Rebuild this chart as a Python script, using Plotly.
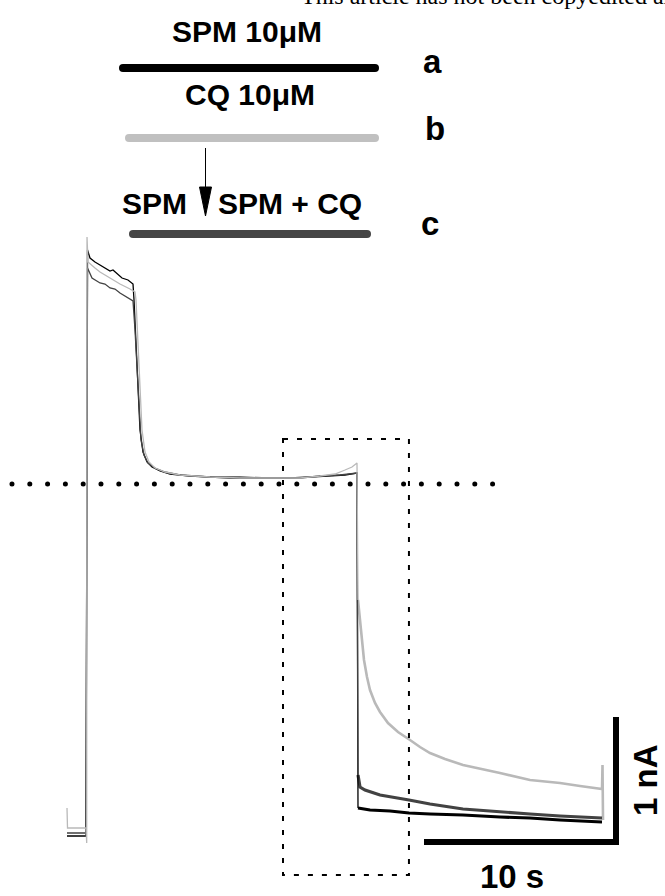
import numpy as np
import plotly.graph_objects as go

# ---------------------------------------------------------------------------
# Whole-cell current recordings (time in s, current in nA)
# a: SPM 10 µM, b: CQ 10 µM, c: SPM then SPM + CQ
# ---------------------------------------------------------------------------
t_a = [0.0, 0.99, 1.068, 1.198, 1.458, 1.719, 1.979, 2.240, 2.396, 2.656, 2.865,
       3.177, 3.438, 3.490, 3.594, 3.698, 3.802, 3.958, 4.167, 4.427, 4.844,
       5.365, 6.406, 7.448, 8.490, 9.531, 10.573, 11.615, 12.656, 13.698,
       14.479, 15.104, 15.156, 15.781, 16.823, 17.813, 18.906, 20.625, 22.552,
       24.115, 25.677, 27.865]
i_a = [-2.816, -2.816, 1.872, 1.808, 1.776, 1.752, 1.728, 1.704, 1.712, 1.672,
       1.648, 1.632, 1.600, 1.472, 1.152, 0.752, 0.432, 0.256, 0.176, 0.136,
       0.104, 0.080, 0.064, 0.056, 0.048, 0.048, 0.048, 0.048, 0.056, 0.064,
       0.072, 0.088, -2.592, -2.608, -2.616, -2.632, -2.640, -2.648, -2.664,
       -2.672, -2.688, -2.704]

t_b = [0.0, 0.026, 0.99, 1.026, 1.042, 1.094, 1.458, 1.719, 2.240, 2.760, 3.281,
       3.542, 3.594, 3.698, 3.802, 3.906, 4.063, 4.271, 4.583, 5.104, 5.885,
       7.448, 9.010, 10.573, 12.135, 13.177, 13.958, 14.479, 14.844, 15.104,
       15.156, 15.260, 15.365, 15.469, 15.625, 15.781, 16.042, 16.302, 16.719,
       17.240, 17.865, 18.385, 18.906, 19.688, 20.625, 21.510, 22.552, 24.115,
       25.677, 26.719, 27.865, 27.891, 27.917]
i_b = [-2.592, -2.752, -2.752, -2.872, 1.976, 1.776, 1.728, 1.696, 1.648, 1.600,
       1.560, 1.536, 1.472, 1.152, 0.752, 0.432, 0.256, 0.176, 0.128, 0.096,
       0.072, 0.056, 0.048, 0.048, 0.048, 0.064, 0.080, 0.112, 0.136, 0.168,
       -0.928, -1.088, -1.272, -1.408, -1.544, -1.648, -1.752, -1.824, -1.912,
       -1.984, -2.048, -2.104, -2.152, -2.200, -2.248, -2.280, -2.312, -2.368,
       -2.392, -2.416, -2.440, -2.248, -2.688]

t_c = [0.0, 0.99, 1.068, 1.302, 1.719, 1.979, 2.240, 2.500, 2.760, 3.021, 3.281,
       3.438, 3.542, 3.646, 3.750, 3.854, 4.010, 4.219, 4.583, 5.104, 5.885,
       7.448, 9.010, 10.573, 12.135, 13.177, 14.219, 15.104, 15.156, 15.260,
       15.521, 16.302, 17.813, 18.906, 20.625, 22.552, 24.115, 25.677, 27.865]
i_c = [-2.792, -2.792, 1.728, 1.648, 1.608, 1.600, 1.568, 1.560, 1.528, 1.504,
       1.480, 1.464, 1.232, 0.912, 0.592, 0.352, 0.232, 0.168, 0.128, 0.096,
       0.072, 0.056, 0.056, 0.048, 0.048, 0.064, 0.072, 0.088, -2.328, -2.424,
       -2.448, -2.488, -2.528, -2.560, -2.600, -2.624, -2.640, -2.656, -2.672]

T_SWITCH = 15.156        # second solution exchange (s)
REF_LEVEL = 0.0          # dotted reference current (nA)
BOX_T = [11.25, 17.81]   # highlighted window (s)
BOX_I = [0.36, -3.128]   # highlighted window (nA)
SCALE_T = 10             # s
SCALE_I = 1              # nA
SCALE_CORNER = (28.594, -2.864)

# ---------------------------------------------------------------------------
# Page geometry
# ---------------------------------------------------------------------------
W, H = 665, 896
PX_PER_S, PX_PER_NA = 19.2, 125.0
T_LEFT = -67 / PX_PER_S
I_TOP = 484 / PX_PER_NA

COL_A, COL_B, COL_C = "#000000", "#b9b9b9", "#424242"
FONT = "Liberation Sans, Arial, sans-serif"

fig = go.Figure()


def split(t, i):
    t = np.asarray(t)
    i = np.asarray(i)
    early = t <= T_SWITCH
    late = t >= T_SWITCH
    return (t[early], i[early]), (t[late], i[late])


recs = {"a": (t_a, i_a, COL_A, 3.2), "b": (t_b, i_b, COL_B, 2.6),
        "c": (t_c, i_c, COL_C, 3.2)}

# noisy steady phase after the exchange (thicker band)
for key in ["b", "c", "a"]:
    t, i, col, lw = recs[key]
    _, (tl, il) = split(t, i)
    fig.add_trace(go.Scatter(x=tl, y=il, mode="lines",
                             line=dict(color=col, width=lw),
                             hoverinfo="skip", showlegend=False))

# responses up to the exchange
for key in ["a", "c", "b"]:
    t, i, col, lw = recs[key]
    (te, ie), _ = split(t, i)
    fig.add_trace(go.Scatter(x=te, y=ie, mode="lines",
                             line=dict(color=col, width=1.3),
                             hoverinfo="skip", showlegend=False))

# dotted reference level
dots_t = np.arange(-2.865, 22.3, 17.8 / PX_PER_S)
fig.add_trace(go.Scatter(x=dots_t, y=np.full(dots_t.shape, REF_LEVEL),
                         mode="markers",
                         marker=dict(color="black", size=5, symbol="circle"),
                         hoverinfo="skip", showlegend=False))

# scale bars
ct, ci = SCALE_CORNER
fig.add_trace(go.Scatter(x=[ct - SCALE_T, ct, ct], y=[ci, ci, ci + SCALE_I],
                         mode="lines", line=dict(color="black", width=6),
                         hoverinfo="skip", showlegend=False))

# highlighted window
fig.add_shape(type="rect", xref="x", yref="y",
              x0=BOX_T[0], x1=BOX_T[1], y0=BOX_I[0], y1=BOX_I[1],
              line=dict(color="black", width=2, dash="5px,9px"))

# ---------------------------------------------------------------------------
# Application schematic (pixel overlay axes)
# ---------------------------------------------------------------------------
bars = [(123, 375, 68, COL_A), (129, 375, 138, "#c0c0c0"), (133, 367, 234, "#454545")]
for x0, x1, y, col in bars:
    fig.add_trace(go.Scatter(x=[x0, x1], y=[y, y], xaxis="x2", yaxis="y2",
                             mode="lines+markers",
                             line=dict(color=col, width=8),
                             marker=dict(color=col, size=8),
                             hoverinfo="skip", showlegend=False))

fig.add_shape(type="line", xref="x2", yref="y2", x0=205.5, x1=205.5, y0=148, y1=190,
              line=dict(color="black", width=1))
fig.add_shape(type="path", xref="x2", yref="y2",
              path="M 199.5,187 L 211.5,187 L 205.5,216 Z",
              fillcolor="black", line=dict(color="black", width=1))


def label(text, x, y, size, **kw):
    fig.add_annotation(x=x, y=y, xref="x2", yref="y2", text=text, showarrow=False,
                       font=dict(family=FONT, size=size, color="black"), **kw)


label("<b>SPM 10μM</b>", 247, 31, 30)
label("<b>CQ 10μM</b>", 250, 94, 30)
label("<b>SPM</b>", 154, 203, 30)
label("<b>SPM + CQ</b>", 290, 203, 30)
label("<b>a</b>", 432, 61, 33)
label("<b>b</b>", 435, 128, 33)
label("<b>c</b>", 430, 223, 33)
label("<b>10 s</b>", 512, 876, 33)
label("<b>1 nA</b>", 645, 780, 33, textangle=-90, borderpad=0)
fig.add_annotation(x=299, y=1, xref="x2", yref="paper", xanchor="left",
                   yanchor="middle", yshift=4,
                   text="This article has not been copyedited and formatted. "
                        "The final version may differ from this version.",
                   showarrow=False,
                   font=dict(family="Liberation Serif, Times New Roman, serif",
                             size=24, color="black"))

fig.update_layout(
    width=W, height=H, margin=dict(l=0, r=0, t=0, b=0),
    paper_bgcolor="white", plot_bgcolor="white",
    xaxis=dict(range=[T_LEFT, T_LEFT + W / PX_PER_S], visible=False, domain=[0, 1]),
    yaxis=dict(range=[I_TOP - H / PX_PER_NA, I_TOP], visible=False, domain=[0, 1]),
    xaxis2=dict(range=[0, W], visible=False, overlaying="x", anchor="y2"),
    yaxis2=dict(range=[H, 0], visible=False, overlaying="y", anchor="x2"),
)

fig.write_html("out.html")
